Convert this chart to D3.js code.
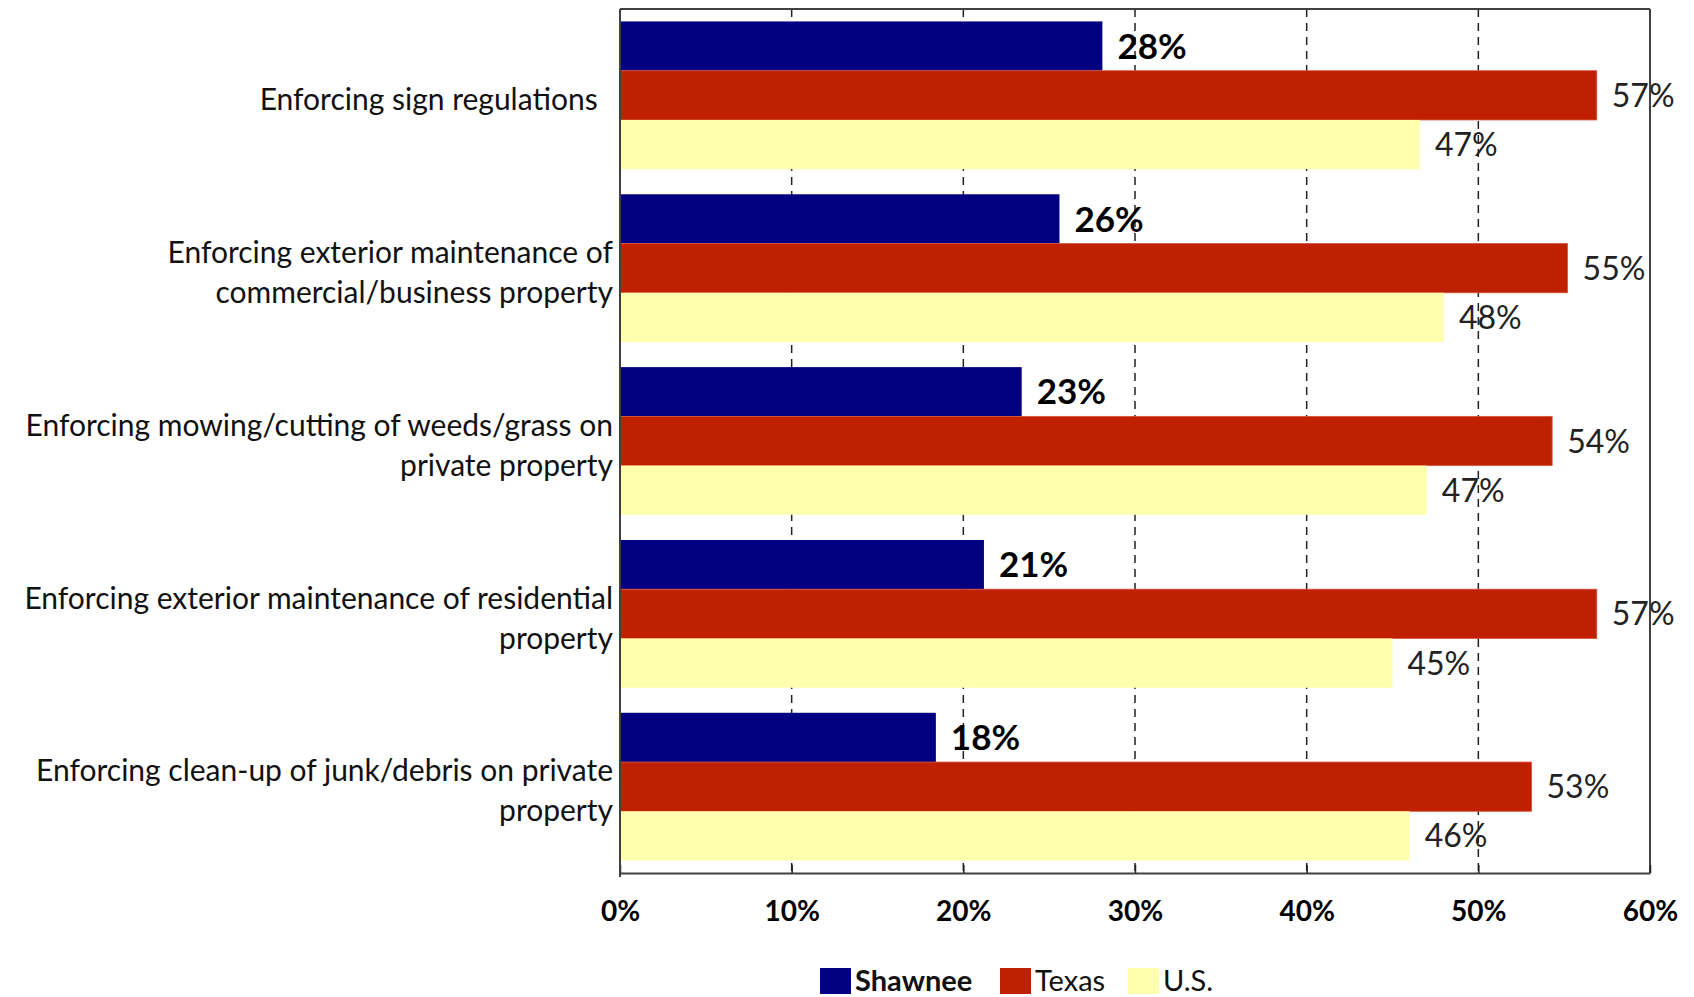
<!DOCTYPE html>
<html>
<head>
<meta charset="utf-8">
<script src="https://cdnjs.cloudflare.com/ajax/libs/d3/7.8.5/d3.min.js"></script>
<style>
  html, body { margin: 0; padding: 0; background: #fff; }
  svg { display: block; }
  text { font-family: Lato, "Open Sans", sans-serif; }
</style>
</head>
<body>
<svg id="chart" width="1694" height="997"></svg>
<script>
// Category labels, each as its wrapped lines
const categories = [
  ["Enforcing sign regulations\u00a0\u00a0"],
  ["Enforcing exterior maintenance of", "commercial/business property"],
  ["Enforcing mowing/cutting of weeds/grass on", "private property"],
  ["Enforcing exterior maintenance of residential", "property"],
  ["Enforcing clean-up of junk/debris on private", "property"]
];
const seriesNames = ["Shawnee", "Texas", "U.S."];
const shawnee = [0.281, 0.256, 0.234, 0.212, 0.184];
const texas   = [0.569, 0.552, 0.543, 0.569, 0.531];
const us      = [0.466, 0.480, 0.470, 0.450, 0.460];
const xTicks  = [0, 0.1, 0.2, 0.3, 0.4, 0.5, 0.6];

const colors = { "Shawnee": "#000080", "Texas": "#BF2000", "U.S.": "#FFFFB0" };
const seriesValues = { "Shawnee": shawnee, "Texas": texas, "U.S.": us };

const svg = d3.select("#chart");
const plot = { left: 620, right: 1650, top: 9, bottom: 873 };

const x = d3.scaleLinear().domain([0, 0.6]).range([plot.left, plot.right]);
const y0 = d3.scaleBand()
  .domain(d3.range(categories.length))
  .range([plot.top, plot.bottom])
  .paddingInner(0.145)
  .paddingOuter(0.072);
const y1 = d3.scaleBand().domain(seriesNames).range([0, y0.bandwidth()]);

// Dashed vertical gridlines (drawn behind the bars)
svg.append("g")
  .selectAll("line")
  .data(xTicks.slice(1, -1))
  .join("line")
  .attr("x1", d => x(d)).attr("x2", d => x(d))
  .attr("y1", plot.top).attr("y2", plot.bottom)
  .attr("stroke", "#222")
  .attr("stroke-width", 1.5)
  .attr("stroke-dasharray", "8,6");

// Bars
const rows = [];
categories.forEach((c, i) => {
  seriesNames.forEach(s => rows.push({ i, s, v: seriesValues[s][i] }));
});

svg.append("g")
  .selectAll("rect")
  .data(rows)
  .join("rect")
  .attr("x", x(0))
  .attr("y", d => y0(d.i) + y1(d.s))
  .attr("width", d => x(d.v) - x(0))
  .attr("height", y1.bandwidth())
  .attr("fill", d => colors[d.s])
  .attr("stroke", d => d.s === "Texas" ? "#D6553A" : "none")
  .attr("stroke-width", 0.8);

// Value labels
const pct = d3.format(".0%");
svg.append("g")
  .selectAll("text")
  .data(rows)
  .join("text")
  .attr("x", d => x(d.v) + 15)
  .attr("y", d => y0(d.i) + y1(d.s) + y1.bandwidth() / 2)
  .attr("dy", "0.36em")
  .attr("font-size", d => d.s === "Shawnee" ? 35 : 32)
  .attr("font-weight", d => d.s === "Shawnee" ? "bold" : "normal")
  .attr("fill", d => d.s === "Shawnee" ? "#000" : "#222")
  .text(d => pct(d.v));

// Frame: top and right borders
svg.append("line")
  .attr("x1", plot.left).attr("x2", plot.right)
  .attr("y1", plot.top).attr("y2", plot.top)
  .attr("stroke", "#404040").attr("stroke-width", 2);
svg.append("line")
  .attr("x1", plot.right).attr("x2", plot.right)
  .attr("y1", plot.top).attr("y2", plot.bottom)
  .attr("stroke", "#404040").attr("stroke-width", 2);

// Bottom axis
const xAxis = d3.axisBottom(x)
  .tickValues(xTicks)
  .tickFormat(d3.format(".0%"))
  .tickSizeInner(-8)
  .tickSizeOuter(0)
  .tickPadding(28);
const gx = svg.append("g")
  .attr("transform", `translate(0,${plot.bottom})`)
  .call(xAxis);
gx.select(".domain").attr("stroke", "#404040").attr("stroke-width", 2);
gx.selectAll(".tick line").attr("stroke", "#222").attr("stroke-width", 1.5);
gx.selectAll(".tick text")
  .attr("font-family", "Lato, sans-serif")
  .attr("font-size", 28)
  .attr("font-weight", "bold")
  .attr("fill", "#000");

// Left axis line
svg.append("line")
  .attr("x1", plot.left).attr("x2", plot.left)
  .attr("y1", plot.top).attr("y2", plot.bottom + 4)
  .attr("stroke", "#404040").attr("stroke-width", 2);

// Category labels (right-aligned, wrapped)
const lineHeight = 40;
const catG = svg.append("g");
categories.forEach((lines, i) => {
  const cy = y0(i) + y0.bandwidth() / 2 + 4;
  const startY = cy - (lines.length - 1) * lineHeight / 2;
  const t = catG.append("text")
    .attr("text-anchor", "end")
    .attr("font-size", 30)
    .attr("fill", "#111")
    .attr("xml:space", "preserve");
  lines.forEach((ln, k) => {
    t.append("tspan")
      .attr("x", plot.left - 7)
      .attr("y", startY + k * lineHeight)
      .attr("dy", "0.36em")
      .text(ln);
  });
});

// Legend
const legend = svg.append("g").attr("transform", "translate(820,968)");
const legendItems = [
  { s: "Shawnee", x: 0, bold: true },
  { s: "Texas", x: 180, bold: false },
  { s: "U.S.", x: 308, bold: false }
];
legendItems.forEach(it => {
  legend.append("rect")
    .attr("x", it.x).attr("y", 0)
    .attr("width", 31).attr("height", 26)
    .attr("fill", colors[it.s]);
  legend.append("text")
    .attr("x", it.x + 35)
    .attr("y", 13)
    .attr("dy", "0.34em")
    .attr("font-size", 29)
    .attr("font-weight", it.bold ? "bold" : "normal")
    .attr("fill", "#111")
    .text(it.s);
});
</script>
</body>
</html>
